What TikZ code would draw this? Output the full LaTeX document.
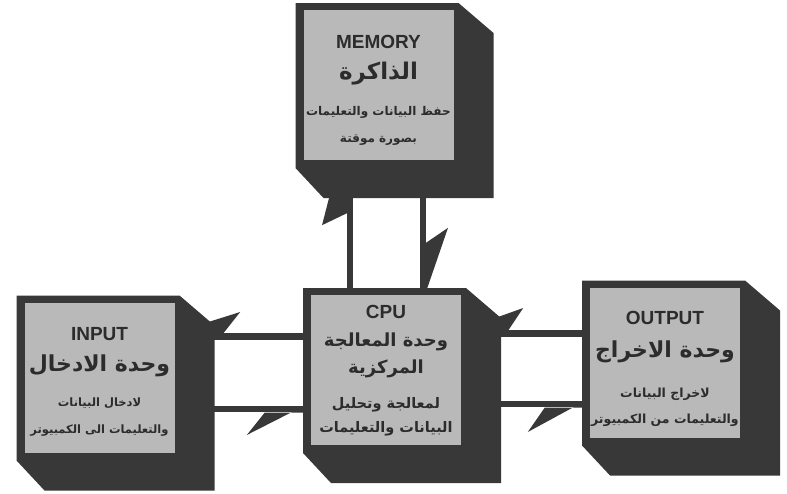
\documentclass[tikz,border=0pt]{standalone}
\usepackage{fontspec}
\setsansfont{Liberation Sans}
\newfontfamily\arabicfont[Script=Arabic]{DejaVu Sans}
\TeXXeTstate=1
\usetikzlibrary{calc}
\definecolor{bodygray}{HTML}{383838}
\definecolor{facegray}{HTML}{B9B9B9}
\definecolor{inkgray}{HTML}{2C2C2C}
\pgfdeclarelayer{background}
\pgfsetlayers{background,main}
\newcommand\entag[1]{{\sffamily\bfseries\fontsize{19}{19}\selectfont #1}}
\newcommand\artitle[2][22]{{\arabicfont\bfseries\fontsize{#1}{#1}\selectfont\beginR #2\endR}}
\newcommand\artext[2][12]{{\arabicfont\bfseries\fontsize{#1}{#1}\selectfont\beginR #2\endR}}

\begin{document}
\begin{tikzpicture}[x=1pt,y=-1pt,
  body/.style={fill=bodygray},
  face/.style={fill=facegray,minimum width=150pt,minimum height=150pt,inner sep=0pt},
  facetext/.style={align=center,text=inkgray,inner sep=0pt,font=\fontsize{12}{27}\selectfont},
  link/.style={draw=bodygray,line width=6.5pt},
  barb/.style={fill=bodygray}]

\useasboundingbox (0,0) rectangle (787,493);

%========================
% Blocchi
%========================

\foreach \n/\x/\y/\d/\t in {
  mem/378.5/85/5/{\entag{MEMORY}\\[4pt]\artitle[23]{الذاكرة}\\[9pt]\artext{حفظ البيانات والتعليمات}\\\artext{بصورة موقتة}},
  inp/99.5/377.5/4/{\entag{INPUT}\\[4pt]\artitle{وحدة الادخال}\\[8pt]\artext[11.5]{لادخال البيانات}\\\artext[11.5]{والتعليمات الى الكمبيوتر}},
  cpu/386/370/1/{\entag{CPU}\\[1pt]\artitle[18]{وحدة المعالجة}\\\artitle[18]{المركزية}\\[8pt]\artext[14.5]{لمعالجة وتحليل}\\[-3pt]\artext[14.5]{البيانات والتعليمات}},
  out/665/362.5/6/{\entag{OUTPUT}\\[6pt]\artitle{وحدة الاخراج}\\[13pt]\artext[12.5]{لاخراج البيانات}\\[-1pt]\artext[12.5]{والتعليمات من الكمبيوتر}}}
{
  % corpo scuro
  \fill[body] (\x-83,\y-82) -- (\x+80,\y-82) -- (\x+115,\y-52)
    -- (\x+115,\y+113) -- (\x-55,\y+113) -- (\x-83,\y+83) -- cycle;
  % faccia
  \node[face] (\n) at (\x,\y) {};
  \node[facetext] (\n-t) at (\x,\y+\d) {\t};
}

%========================
% Collegamenti
%========================

\begin{pgfonlayer}{background}

% INPUT - CPU
\coordinate (icA) at ([yshift=41pt]inp.east);
\coordinate (icB) at ([yshift=-31.5pt]inp.east);
\coordinate (icC) at (cpu.west |- icB);
\draw[link] (icA) -- (cpu.west |- icA);
\draw[link] (icB) -- (icC);
\fill[barb,shift={(icA)}] (30.5,0) -- (30.5,-13.5) -- (65.5,-24.5) -- (48.5,-3) -- cycle;
\fill[barb,shift={(icC)}] (-3,-5) -- (-64,26) -- (-46,3.5) -- (-3,3.5) -- cycle;

% MEMORY - CPU
\coordinate (mcA) at ([xshift=-36pt]cpu.north);
\coordinate (mcB) at (mcA |- mem.south);
\coordinate (mcC) at ([xshift=37pt]cpu.north);
\draw[link] (mcA) -- (mcB);
\draw[link] (mcC) -- (mcC |- mem.south);
\fill[barb,shift={(mcB)}] (-20,34) -- (-28,65) -- (-3,53) -- (-3,34) -- cycle;
\fill[barb,shift={(mcC)}] (3,-52) -- (25,-67) -- (3,-3) -- cycle;

% CPU - OUTPUT
\coordinate (coA) at ([yshift=36.5pt]cpu.east);
\coordinate (coB) at ([yshift=-34pt]cpu.east);
\coordinate (coC) at (out.west |- coB);
\draw[link] (coA) -- (out.west |- coA);
\draw[link] (coB) -- (coC);
\fill[barb,shift={(coA)}] (34,-15.5) -- (62,-25.5) -- (47,-3) -- (34,-3) -- cycle;
\fill[barb,shift={(coC)}] (-4,-3.5) -- (-62,28) -- (-45,3.5) -- (-4,3.5) -- cycle;

\end{pgfonlayer}
\end{tikzpicture}
\end{document}
